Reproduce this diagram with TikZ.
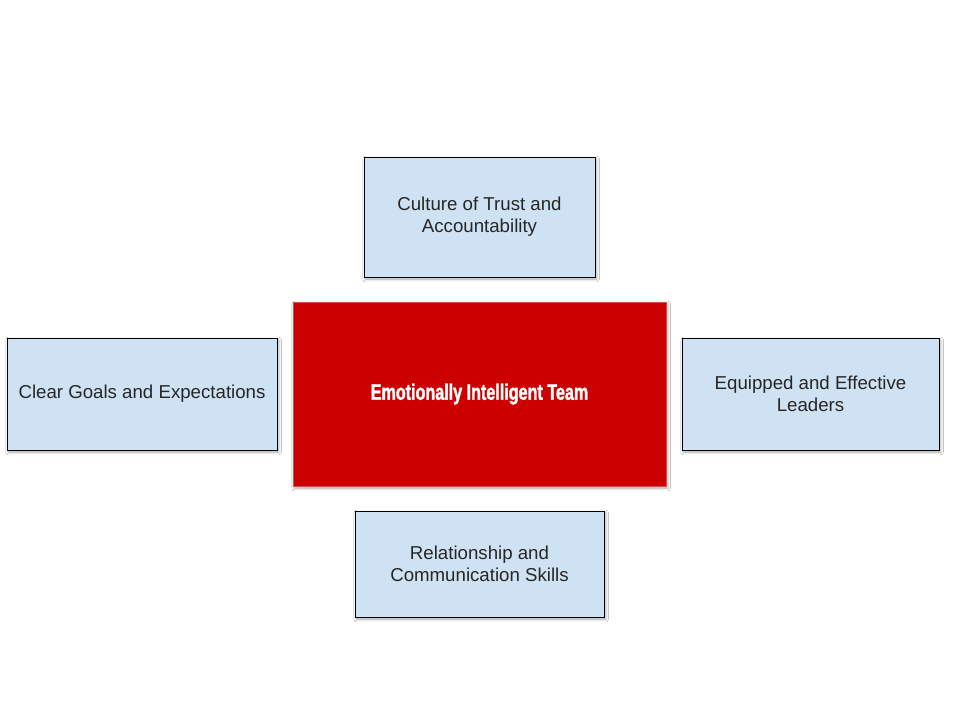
\documentclass[tikz,border=0pt]{standalone}
\usepackage{xcolor}
\usepackage{fontspec}
\setmainfont{Liberation Sans}
\newfontfamily\narrowbold[FakeStretch=0.72,FakeBold=1.5]{Liberation Sans Bold}
\usepackage{tikz}
\usetikzlibrary{shadows.blur}

\definecolor{boxblue}{HTML}{CFE2F3}
\definecolor{teamred}{HTML}{CC0000}

\tikzset{
  pillar/.style={draw=black, line width=0.6pt, fill=boxblue, align=center,
    font=\fontsize{14}{16.5}\selectfont, text=black!85,
    blur shadow={shadow xshift=1.2pt, shadow yshift=-1.5pt, shadow blur steps=4, shadow opacity=35}},
  core/.style={fill=teamred, draw=teamred!70, text=white,
    font=\narrowbold\fontsize{16.8}{19}\selectfont,
    blur shadow={shadow xshift=1.2pt, shadow yshift=-1.5pt, shadow blur steps=4, shadow opacity=35}}
}

\begin{document}
\begin{tikzpicture}[x=0.75pt,y=-0.75pt]
	\useasboundingbox[fill=white] (0,0) rectangle (960,720);
	\node[core, minimum width=279.75pt, minimum height=138pt] (team) at (479.5,394) {Emotionally Intelligent Team};
	\node[pillar, minimum width=173.25pt, minimum height=90pt] (trust) at (479.5,217) {Culture of Trust and\\Accountability};
	\node[pillar, minimum width=202.5pt, minimum height=84pt] (goals) at (142,394) {Clear Goals and Expectations};
	\node[pillar, minimum width=192.75pt, minimum height=84pt] (leaders) at (810.5,394) {Equipped and Effective\\Leaders};
	\node[pillar, minimum width=186.75pt, minimum height=79.5pt] (skills) at (479.5,564) {Relationship and\\Communication Skills};
\end{tikzpicture}
\end{document}
